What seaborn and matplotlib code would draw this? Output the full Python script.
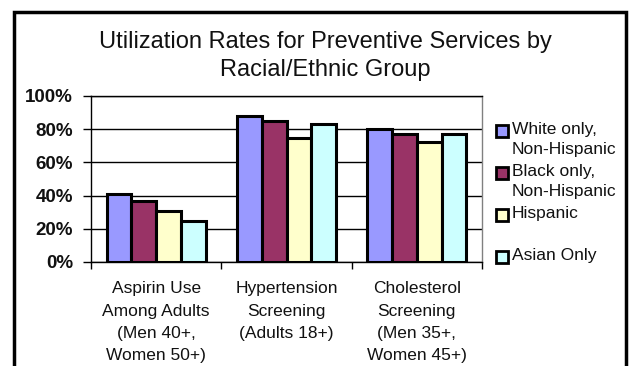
import matplotlib
matplotlib.use("Agg")
import matplotlib.pyplot as plt
import matplotlib.patches as mpatches
import pandas as pd
import seaborn as sns

categories = ["Aspirin Use\nAmong Adults\n(Men 40+,\nWomen 50+)",
              "Hypertension\nScreening\n(Adults 18+)",
              "Cholesterol\nScreening\n(Men 35+,\nWomen 45+)"]
groups = ["White only,\nNon-Hispanic", "Black only,\nNon-Hispanic", "Hispanic", "Asian Only"]
white = [41, 88, 80]
black = [37, 85, 77]
hispanic = [31, 75, 72]
asian = [25, 83, 77]
yticks = [0, 20, 40, 60, 80, 100]
ytick_labels = ["0%", "20%", "40%", "60%", "80%", "100%"]

colors = ["#9999FF", "#993366", "#FFFFCC", "#CCFFFF"]

rows = []
for g, vals in zip(groups, [white, black, hispanic, asian]):
    for c, v in zip(categories, vals):
        rows.append({"category": c, "group": g, "value": v})
df = pd.DataFrame(rows)

sns.set_theme(style="white")
plt.rcParams["font.family"] = ["Liberation Sans", "DejaVu Sans"]

fig = plt.figure(figsize=(6.31, 3.66), dpi=100)
ax = fig.add_axes([91 / 631, 1 - 262 / 366, (482 - 91) / 631, (262 - 96) / 366])

sns.barplot(data=df, x="category", y="value", hue="group", order=categories,
            hue_order=groups, palette=colors, width=0.76, edgecolor="black",
            linewidth=2.2, saturation=1, legend=False, ax=ax, zorder=3)

ax.set_ylim(0, 100)
ax.set_xlim(-0.5, 2.5)
ax.set_yticks(yticks)
ax.set_yticklabels(ytick_labels, fontsize=13.5, fontweight="bold", color="#111111")
ax.yaxis.grid(True, color="black", linewidth=1)
ax.set_axisbelow(True)
ax.set_xlabel("")
ax.set_ylabel("")
ax.tick_params(axis="y", which="major", direction="out", length=6, width=1,
               color="black", left=True, pad=7)
ax.tick_params(axis="x", which="major", length=0, pad=14)
ax.set_xticks([-0.5, 0.5, 1.5, 2.5], minor=True)
ax.tick_params(axis="x", which="minor", direction="out", length=5, width=1,
               color="black", bottom=True)
for lbl in ax.get_xticklabels():
    lbl.set_fontsize(12.5)
    lbl.set_linespacing(1.6)
    lbl.set_verticalalignment("top")
    lbl.set_color("#111111")

for side in ["left", "bottom", "top"]:
    ax.spines[side].set_color("black")
    ax.spines[side].set_linewidth(1)
ax.spines["right"].set_color("#808080")
ax.spines["right"].set_linewidth(1)

fig.text(0.515, 1 - 42 / 366, "Utilization Rates for Preventive Services by",
         ha="center", va="center", fontsize=17, color="#111111")
fig.text(0.515, 1 - 70 / 366, "Racial/Ethnic Group",
         ha="center", va="center", fontsize=17, color="#111111")

# legend
leg_y = [131, 173, 215, 257]
for g, col, y in zip(groups, colors, leg_y):
    fig.patches.append(mpatches.Rectangle((496 / 631, 1 - (y + 6) / 366), 12 / 631, 12 / 366,
                                          transform=fig.transFigure, facecolor=col,
                                          edgecolor="black", linewidth=2))
    fig.text(512 / 631, 1 - (y - 9) / 366, g, ha="left", va="top", fontsize=12.5,
             linespacing=1.45, color="#111111")

# outer frame
fig.patches.append(mpatches.Rectangle((14 / 631, -0.05), (626 - 14) / 631, 1.05 - 12 / 366,
                                      transform=fig.transFigure, fill=False,
                                      edgecolor="black", linewidth=2.5))

fig.savefig("out.png", dpi=100, facecolor="white")
